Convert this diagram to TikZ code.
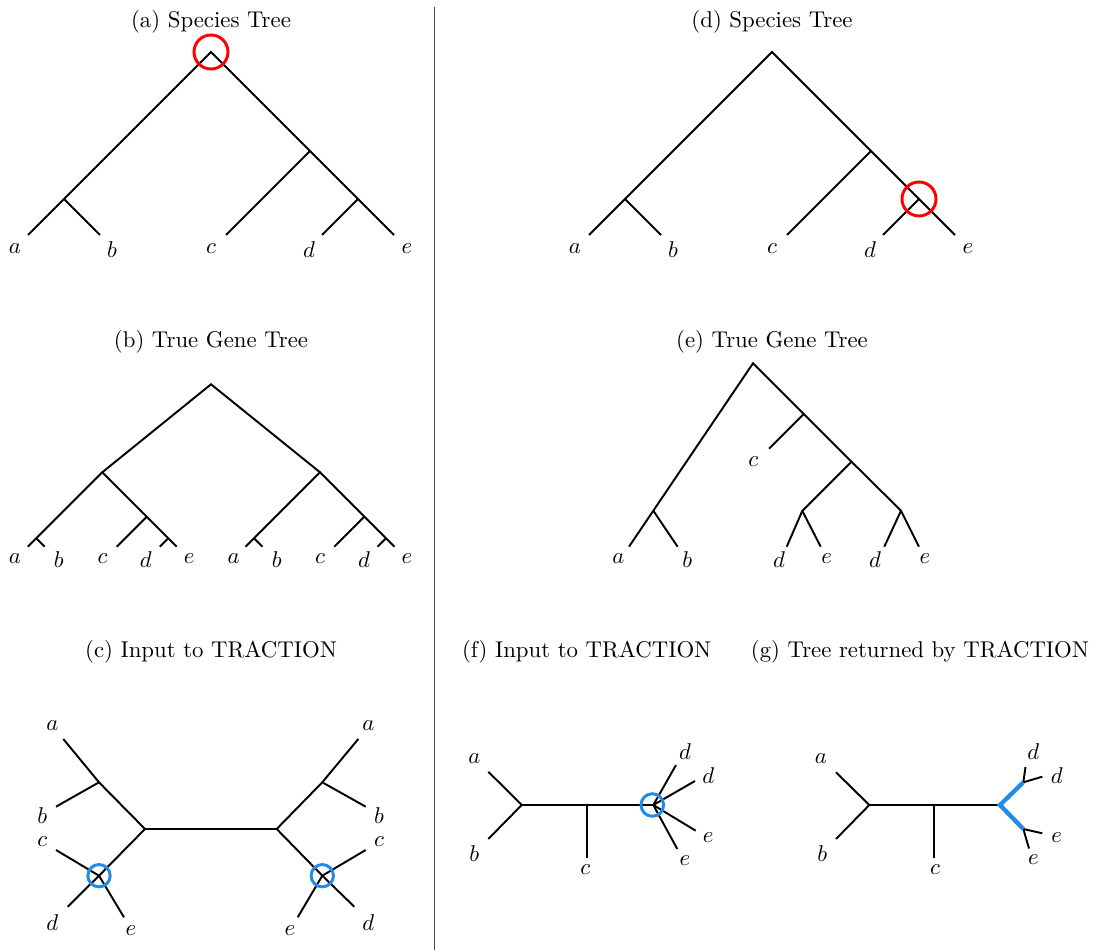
\documentclass[tikz,border=0pt]{standalone}
\usepackage{xcolor}
\definecolor{tblue}{RGB}{34,139,230}
\begin{document}
\begin{tikzpicture}[x=0.4386pt,y=-0.4386pt,
  branch/.style={line width=0.85pt,black,line join=miter},
  lbl/.style={inner sep=0pt,anchor=center},
  ttl/.style={inner sep=0pt,anchor=center},
  redring/.style={draw=red,line width=1.3pt},
  bluering/.style={draw=tblue,line width=1.3pt},
  blueedge/.style={draw=tblue,line width=1.9pt,line join=miter},
  divider/.style={draw=black!70,line width=0.5pt}]
\useasboundingbox (0,0) rectangle (1099,950);

% divider
\coordinate (divtop) at (434.5,7);
\coordinate (divbot) at (434.5,950);
\draw[divider] (divtop) -- (divbot);

% ===== (a) Species Tree =====
\node[ttl] (ta) at (211,22) {(a) Species Tree};
\coordinate (aR) at (211,52);
\coordinate (aAB) at (64,199);
\coordinate (aCDE) at (310,151);
\coordinate (aDE) at (358,199);
\coordinate (aa) at (28,235);
\coordinate (ab) at (100,235);
\coordinate (ac) at (226,235);
\coordinate (ad) at (322,235);
\coordinate (ae) at (394,235);
\draw[branch] (aa) -- (aAB) -- (aR) -- (aCDE) -- (aDE) -- (ae);
\draw[branch] (aAB) -- (ab);
\draw[branch] (aCDE) -- (ac);
\draw[branch] (aDE) -- (ad);
\node[lbl] (laa) at (15,248.5) {$a$};
\node[lbl] (lab) at (112,250) {$b$};
\node[lbl] (lac) at (211,248.5) {$c$};
\node[lbl] (lad) at (309,250) {$d$};
\node[lbl] (lae) at (407,248.5) {$e$};
\draw[redring] (aR) circle[radius=7.46pt];

% ===== (d) Species Tree =====
\node[ttl] (td) at (772,22) {(d) Species Tree};
\coordinate (dR) at (772,52);
\coordinate (dAB) at (625,199);
\coordinate (dCDE) at (871,151);
\coordinate (dDE) at (919,199);
\coordinate (da) at (589,235);
\coordinate (db) at (661,235);
\coordinate (dc) at (787,235);
\coordinate (dd) at (883,235);
\coordinate (de) at (955,235);
\draw[branch] (da) -- (dAB) -- (dR) -- (dCDE) -- (dDE) -- (de);
\draw[branch] (dAB) -- (db);
\draw[branch] (dCDE) -- (dc);
\draw[branch] (dDE) -- (dd);
\node[lbl] (lda) at (575,248.5) {$a$};
\node[lbl] (ldb) at (673,250) {$b$};
\node[lbl] (ldc) at (772,248.5) {$c$};
\node[lbl] (ldd) at (870,250) {$d$};
\node[lbl] (lde) at (968,248.5) {$e$};
\draw[redring] (dDE) circle[radius=7.46pt];

% ===== (b) True Gene Tree =====
\node[ttl] (tb) at (211,342) {(b) True Gene Tree};
\coordinate (bR) at (211,384.3);
\coordinate (bL) at (102.3,472.3);
\coordinate (bRr) at (320,472.3);
% left copy
\coordinate (bLAB) at (36.3,538.3);
\coordinate (bLCDE) at (146.7,516.7);
\coordinate (bLDE) at (168.3,538.3);
\coordinate (bLa) at (27.9,546.7);
\coordinate (bLb) at (44.7,546.7);
\coordinate (bLc) at (116.7,546.7);
\coordinate (bLd) at (159.9,546.7);
\coordinate (bLe) at (176.7,546.7);
% right copy
\coordinate (bRAB) at (254,538.3);
\coordinate (bRCDE) at (364.4,516.7);
\coordinate (bRDE) at (386,538.3);
\coordinate (bRa) at (245.6,546.7);
\coordinate (bRb) at (262.4,546.7);
\coordinate (bRc) at (334.4,546.7);
\coordinate (bRd) at (377.6,546.7);
\coordinate (bRe) at (394.4,546.7);
\draw[branch] (bL) -- (bR) -- (bRr);
\draw[branch] (bLa) -- (bLAB) -- (bL) -- (bLCDE) -- (bLDE) -- (bLe);
\draw[branch] (bLAB) -- (bLb);
\draw[branch] (bLCDE) -- (bLc);
\draw[branch] (bLDE) -- (bLd);
\draw[branch] (bRa) -- (bRAB) -- (bRr) -- (bRCDE) -- (bRDE) -- (bRe);
\draw[branch] (bRAB) -- (bRb);
\draw[branch] (bRCDE) -- (bRc);
\draw[branch] (bRDE) -- (bRd);
\node[lbl] (lbLa) at (15,559) {$a$};
\node[lbl] (lbLb) at (58.7,559.5) {$b$};
\node[lbl] (lbLc) at (102.5,559) {$c$};
\node[lbl] (lbLd) at (145.8,559.5) {$d$};
\node[lbl] (lbLe) at (189.3,559) {$e$};
\node[lbl] (lbRa) at (233.7,559) {$a$};
\node[lbl] (lbRb) at (276.7,559.5) {$b$};
\node[lbl] (lbRc) at (320,559) {$c$};
\node[lbl] (lbRd) at (364,559.5) {$d$};
\node[lbl] (lbRe) at (407,559) {$e$};

% ===== (e) True Gene Tree =====
\node[ttl] (te) at (772,342) {(e) True Gene Tree};
\coordinate (eR) at (753,363.3);
\coordinate (eAB) at (653.3,510.7);
\coordinate (ea) at (629,546.7);
\coordinate (eb) at (677.6,546.7);
\coordinate (eC) at (803.7,414);
\coordinate (ec) at (769,448.7);
\coordinate (eDD) at (851.5,461.7);
\coordinate (eL2) at (802.3,510.9);
\coordinate (ed1) at (786.7,546.7);
\coordinate (ee1) at (820.7,546.7);
\coordinate (eR2) at (901,510.7);
\coordinate (ed2) at (884.3,546.7);
\coordinate (ee2) at (919,546.7);
\draw[branch] (ea) -- (eAB) -- (eR) -- (eC) -- (eDD) -- (eR2) -- (ee2);
\draw[branch] (eAB) -- (eb);
\draw[branch] (eC) -- (ec);
\draw[branch] (eDD) -- (eL2) -- (ed1);
\draw[branch] (eL2) -- (ee1);
\draw[branch] (eR2) -- (ed2);
\node[lbl] (lea) at (618.3,559) {$a$};
\node[lbl] (leb) at (687.3,559.5) {$b$};
\node[lbl] (lec) at (753.3,461.7) {$c$};
\node[lbl] (led1) at (779,559.5) {$d$};
\node[lbl] (lee1) at (826.7,559) {$e$};
\node[lbl] (led2) at (875,559.5) {$d$};
\node[lbl] (lee2) at (925,559) {$e$};

% ===== (c) Input to TRACTION =====
\node[ttl] (tc) at (211,652) {(c) Input to TRACTION};
\coordinate (cL) at (145,829);
\coordinate (cR) at (276.7,829);
\coordinate (cLU) at (99,782.3);
\coordinate (cLX) at (99,875.7);
\coordinate (cLa) at (63.3,739);
\coordinate (cLb) at (56,806.7);
\coordinate (cLc) at (56,850);
\coordinate (cLd) at (67.7,906.7);
\coordinate (cLe) at (124,917.3);
\coordinate (cRU) at (322.3,782.3);
\coordinate (cRX) at (322.3,875.7);
\coordinate (cRa) at (358.3,739);
\coordinate (cRb) at (365.7,806.7);
\coordinate (cRc) at (365.7,850);
\coordinate (cRd) at (354.3,906.7);
\coordinate (cRe) at (297.7,917.3);
\draw[branch] (cL) -- (cR);
\draw[branch] (cLa) -- (cLU) -- (cL) -- (cLX) -- (cLd);
\draw[branch] (cLU) -- (cLb);
\draw[branch] (cLc) -- (cLX) -- (cLe);
\draw[branch] (cRa) -- (cRU) -- (cR) -- (cRX) -- (cRd);
\draw[branch] (cRU) -- (cRb);
\draw[branch] (cRc) -- (cRX) -- (cRe);
\draw[bluering] (cLX) circle[radius=4.9pt];
\draw[bluering] (cRX) circle[radius=4.9pt];
\node[lbl] (lcLa) at (52.3,725.7) {$a$};
\node[lbl] (lcLb) at (42.3,815.7) {$b$};
\node[lbl] (lcLc) at (42.3,841.7) {$c$};
\node[lbl] (lcLd) at (52.3,922.3) {$d$};
\node[lbl] (lcLe) at (131,931) {$e$};
\node[lbl] (lcRa) at (368.3,725.7) {$a$};
\node[lbl] (lcRb) at (379,815.7) {$b$};
\node[lbl] (lcRc) at (379,841.7) {$c$};
\node[lbl] (lcRd) at (368.3,922.3) {$d$};
\node[lbl] (lcRe) at (290,931) {$e$};

% ===== (f) Input to TRACTION =====
\node[ttl] (tf) at (586.7,652) {(f) Input to TRACTION};
\coordinate (fA) at (521.7,805);
\coordinate (fC) at (586.7,805);
\coordinate (fB) at (653.3,805);
\coordinate (fa) at (488.3,771.7);
\coordinate (fb) at (488.3,839);
\coordinate (fc) at (586.7,857.7);
\coordinate (fd1) at (676,765);
\coordinate (fd2) at (695,781);
\coordinate (fe1) at (695.7,830.7);
\coordinate (fe2) at (677.3,849);
\draw[branch] (fa) -- (fA) -- (fb);
\draw[branch] (fA) -- (fB);
\draw[branch] (fC) -- (fc);
\draw[branch] (fB) -- (fd1);
\draw[branch] (fB) -- (fd2);
\draw[branch] (fB) -- (fe1);
\draw[branch] (fB) -- (fe2);
\draw[bluering] (652.3,805) circle[radius=4.95pt];
\node[lbl] (lfa) at (474.3,758.3) {$a$};
\node[lbl] (lfb) at (474.3,853.3) {$b$};
\node[lbl] (lfc) at (585.3,869.3) {$c$};
\node[lbl] (lfd1) at (685,751.7) {$d$};
\node[lbl] (lfd2) at (708.3,775.7) {$d$};
\node[lbl] (lfe1) at (708.3,837.3) {$e$};
\node[lbl] (lfe2) at (685,861) {$e$};

% ===== (g) Tree returned by TRACTION =====
\node[ttl] (tg) at (920,652) {(g) Tree returned by TRACTION};
\coordinate (gA) at (869.3,805);
\coordinate (gC) at (934.3,805);
\coordinate (gB) at (1000,805);
\coordinate (gD) at (1023.3,782.3);
\coordinate (gE) at (1023.3,829);
\coordinate (ga) at (836,772.3);
\coordinate (gb) at (836,839);
\coordinate (gc) at (934.3,857.7);
\coordinate (gd1) at (1025.5,767);
\coordinate (gd2) at (1042.3,776.7);
\coordinate (ge1) at (1042.3,833.3);
\coordinate (ge2) at (1029,848.5);
\draw[branch] (ga) -- (gA) -- (gb);
\draw[branch] (gA) -- (gB);
\draw[branch] (gC) -- (gc);
\draw[branch] (gd1) -- (gD) -- (gd2);
\draw[branch] (ge1) -- (gE) -- (ge2);
\draw[blueedge] (gD) -- (gB) -- (gE);
\node[lbl] (lga) at (821,758.3) {$a$};
\node[lbl] (lgb) at (822.3,853.3) {$b$};
\node[lbl] (lgc) at (935,869.3) {$c$};
\node[lbl] (lgd1) at (1033.3,751.7) {$d$};
\node[lbl] (lgd2) at (1056.7,775.7) {$d$};
\node[lbl] (lge1) at (1056.7,837.3) {$e$};
\node[lbl] (lge2) at (1033.3,860) {$e$};
\end{tikzpicture}
\end{document}
